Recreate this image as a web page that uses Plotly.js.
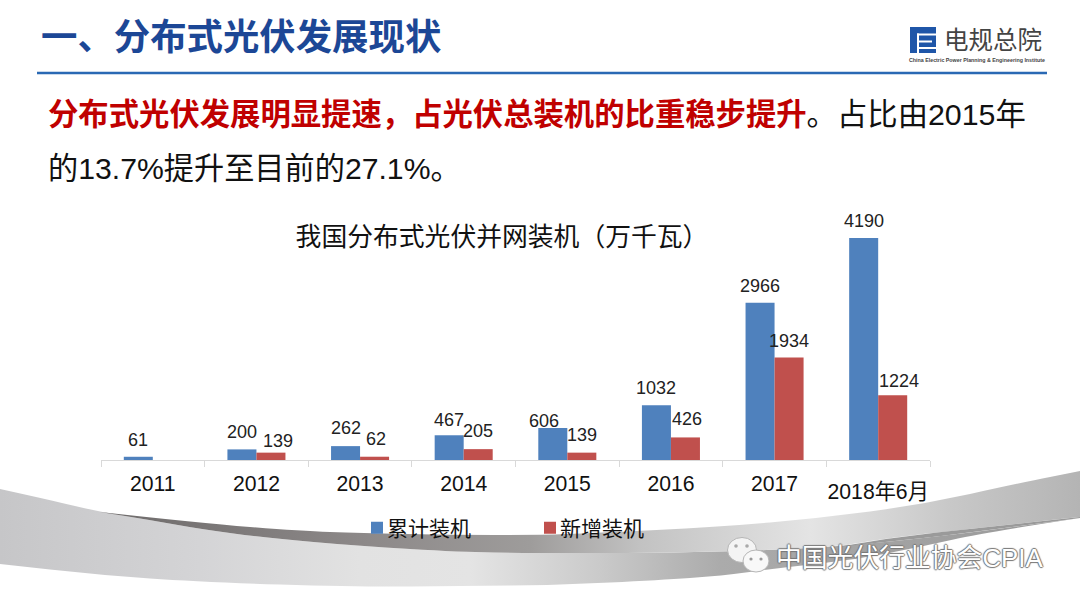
<!DOCTYPE html>
<html><head><meta charset="utf-8">
<script src="https://cdn.plot.ly/plotly-3.0.1.min.js"></script>
<style>html,body{margin:0;padding:0;background:#fff;overflow:hidden}#c{width:1080px;height:605px}</style>
</head><body><div id="c"></div>
<script>
// ---- data ----
const categories = ['2011','2012','2013','2014','2015','2016','2017','2018年6月'];
const cumulative = [61,200,262,467,606,1032,2966,4190];
const added = [null,139,62,205,139,426,1934,1224];
const seriesNames = ['累计装机','新增装机'];
const chartTitle = '我国分布式光伏并网装机（万千瓦）';
// ---- label nudges (px) ----
const cumDx = [0,0,0,0,-9,0,0,0], cumDy = [17,17,18,15,7,17,17,17];
const addDx = [0,7,1,0,0,2,0,6], addDy = [0,12,18,18,18,18,17,14];

const W=1080,H=605,L=101,R=150,T=200,B=145,pw=W-L-R,ph=H-T-B;
const px=x=>(x-L)/pw, py=y=>1-(y-T)/ph;
const FONT='"Liberation Sans","Noto Sans CJK SC",sans-serif';
const BW=29;

// decorative ribbon behind the chart
const smooth=pts=>{let d=`M${pts[0][0]},${pts[0][1]}`;
  for(let i=1;i<pts.length-1;i++){const m=[(pts[i][0]+pts[i+1][0])/2,(pts[i][1]+pts[i+1][1])/2];d+=` Q${pts[i][0]},${pts[i][1]} ${m[0]},${m[1]}`;}
  const e=pts[pts.length-1];return d+` L${e[0]},${e[1]}`;};
const cont=(pts)=>smooth(pts).replace(/^M/,'L');
const lowerTop=[[0,489],[50,500],[100,512],[150,520],[200,529],[267,538],[360,546],[460,552],[527,553],[627,553],[720,552],[837,547],[953,535],[1080,518]];
const lowerBot=[[1080,518],[987,532],[920,547],[853,560],[787,567],[720,576],[660,580],[560,585],[460,586],[360,587],[200,582],[100,575],[0,564]];
const upperTop=[[100,512],[200,523],[300,531],[360,533],[450,535],[540,535],[593,533],[720,527],[820,518],[920,505],[1020,483],[1080,471]];
const upperBot=[[1080,517],[987,527],[887,538],[837,547],[720,552],[627,553],[527,553],[460,552],[360,546],[267,538],[200,529],[150,520],[100,512]];
const wedgeBot=[[1080,518],[953,535],[837,547]];
const wedgeTop=[[837,547],[887,538],[987,527],[1080,517]];
const stops=a=>a.map(([o,c])=>`<stop offset="${o/1080}" stop-color="${c}"/>`).join('');
const swoosh=`<svg xmlns="http://www.w3.org/2000/svg" width="1080" height="605" viewBox="0 0 1080 605">
<defs>
<linearGradient id="a" gradientUnits="userSpaceOnUse" x1="0" x2="1080" y1="0" y2="0">${stops([[0,'#c6c6c8'],[200,'#d4d4d6'],[360,'#e2e2e2'],[470,'#e4e4e4'],[600,'#cacaca'],[720,'#ababab'],[1080,'#999'] ])}</linearGradient>
<linearGradient id="b" gradientUnits="userSpaceOnUse" x1="0" x2="1080" y1="0" y2="0">${stops([[100,'#6d6a6a'],[360,'#8c8888'],[530,'#9e9c9b'],[640,'#c2c2c2'],[810,'#e4e4e4'],[950,'#c8c8c8'],[1080,'#b4b4b4']])}</linearGradient>
</defs>
<path fill="url(#a)" d="${smooth(lowerTop)} ${cont(lowerBot)} Z"/>
<path fill="url(#b)" d="${smooth(upperTop)} ${cont(upperBot)} Z"/>
<path fill="#9a9a9a" d="${smooth(wedgeTop)} ${cont(wedgeBot)} Z"/>
</svg>`;

const rect=(x0,y0,x1,y1,c)=>({type:'rect',xref:'paper',yref:'paper',x0:px(x0),x1:px(x1),y0:py(y0),y1:py(y1),fillcolor:c,line:{width:0}});
const oval=(cx,cy,rx,ry,c,lc)=>({type:'circle',xref:'paper',yref:'paper',x0:px(cx-rx),x1:px(cx+rx),y0:py(cy-ry),y1:py(cy+ry),fillcolor:c,line:{width:lc?1:0,color:lc||c}});
const line=(x0,y0,x1,y1,c,w)=>({type:'line',xref:'paper',yref:'paper',x0:px(x0),x1:px(x1),y0:py(y0),y1:py(y1),line:{color:c,width:w}});
const text=(t,x,y,size,color,anchor='left',extra={})=>({text:t,xref:'paper',yref:'paper',x:px(x),y:py(y),xanchor:anchor,yanchor:'middle',showarrow:false,
  font:Object.assign({family:FONT,size,color},extra),borderpad:0,borderwidth:0,align:'left'});

const shapes=[
  line(37,73,1047,73,'#2a69b4',2.6),
  rect(910,27,936,53,'#1f56a8'),
  rect(917,33.5,936,35.5,'#fff'), rect(917,33.5,919,53,'#fff'), rect(919,40.5,932,42.5,'#fff'), rect(919,47,936,49,'#fff'),
  oval(742,550,14.5,12.5,'#f4f4f4','#b5b5b5'),
  oval(756,561,13,11,'#f8f8f8','#b5b5b5'),
  oval(736,546,1.8,1.8,'#aaa'), oval(747,546,1.8,1.8,'#aaa'),
  oval(751,559,1.6,1.6,'#999'), oval(761,559,1.6,1.6,'#999')
];

const annotations=[
  text('一、分布式光伏发展现状',41,37,36.4,'#1c4796','left',{weight:700}),
  text('<b><span style="color:#c00000">分布式光伏发展明显提速，占光伏总装机的比重稳步提升</span></b>。占比由2015年',48,114,30.35,'#111'),
  text('的13.7%提升至目前的27.1%。',48,168,30.2,'#111'),
  text('电规总院',944,40,24.5,'#444'),
  text('<b>China Electric Power Planning &amp; Engineering Institute</b>',909,60,5.3,'#444'),
  text('中国光伏行业协会CPIA',776,558,25.8,'#fff','left',{shadow:'1px 0 1px #777,-1px 0 1px #777,0 1px 1px #777,0 -1px 1px #777'})
];
categories.forEach((c,i)=>{
  annotations.push({xref:'x',yref:'y',x:i,y:cumulative[i],xshift:-BW/2+cumDx[i],yshift:cumDy[i],text:String(cumulative[i]),showarrow:false,xanchor:'center',yanchor:'middle',font:{family:FONT,size:18,color:'#222'}});
  if(added[i]!==null) annotations.push({xref:'x',yref:'y',x:i,y:added[i],xshift:BW/2+addDx[i],yshift:addDy[i],text:String(added[i]),showarrow:false,xanchor:'center',yanchor:'middle',font:{family:FONT,size:18,color:'#222'}});
});

const traces=[
  {type:'bar',name:seriesNames[0],x:categories,y:cumulative,marker:{color:'#4f81bd'},hoverinfo:'skip'},
  {type:'bar',name:seriesNames[1],x:categories,y:added,marker:{color:'#c0504d'},hoverinfo:'skip'}
];
const layout={
  width:W,height:H,margin:{l:L,r:R,t:T,b:B,pad:0},
  paper_bgcolor:'rgba(0,0,0,0)',plot_bgcolor:'rgba(0,0,0,0)',
  font:{family:FONT,color:'#111'},
  barmode:'group',bargap:0.44,bargroupgap:0,
  title:{text:chartTitle,x:502/W,xref:'container',xanchor:'center',y:1-237/H,yref:'container',yanchor:'middle',font:{family:FONT,size:25.8,color:'#111'}},
  xaxis:{type:'category',categoryorder:'array',categoryarray:categories,tickson:'boundaries',ticks:'outside',ticklen:6,tickwidth:1,tickcolor:'#d9d9d9',tickangle:0,
    showline:true,linecolor:'#d9d9d9',linewidth:1,showgrid:false,zeroline:false,tickfont:{family:FONT,size:21.2,color:'#111'},ticklabelstandoff:5,automargin:false,fixedrange:true},
  yaxis:{range:[0,ph/0.05298],visible:false,showgrid:false,zeroline:false,fixedrange:true},
  showlegend:true,
  legend:{orientation:'h',x:px(357),xanchor:'left',y:py(528),yanchor:'middle',font:{family:FONT,size:21,color:'#111'},entrywidth:128,entrywidthmode:'pixels',bgcolor:'rgba(0,0,0,0)',itemclick:false,itemdoubleclick:false},
  shapes,annotations,
  images:[{source:'data:image/svg+xml,'+encodeURIComponent(swoosh),xref:'paper',yref:'paper',x:px(0),y:py(0),sizex:W/pw,sizey:H/ph,sizing:'stretch',xanchor:'left',yanchor:'top',layer:'below'}]
};
Plotly.newPlot('c',traces,layout,{displayModeBar:false,staticPlot:true}).then(()=>{
  const t=document.querySelectorAll('#c .xtick text');
  if(t.length){const last=t[t.length-1];last.setAttribute('y',(+last.getAttribute('y'))+8);}
  document.querySelectorAll('#c .legendtext').forEach(e=>e.setAttribute('x',(+e.getAttribute('x'))-10));
});
</script></body></html>
